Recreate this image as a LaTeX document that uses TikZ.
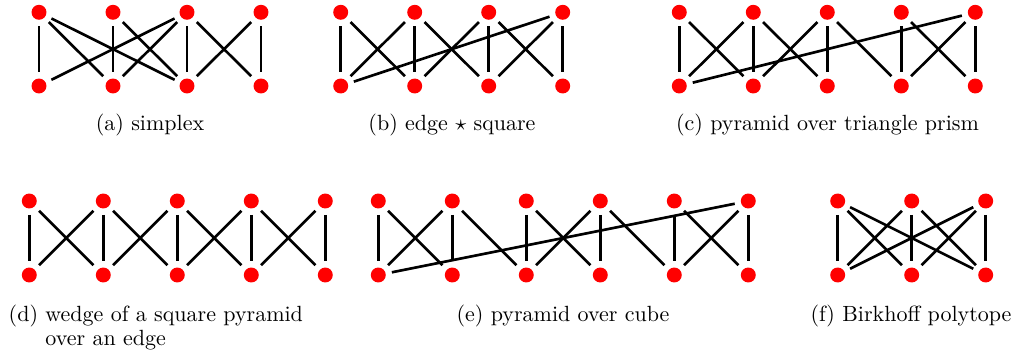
\documentclass[tikz,border=0pt]{standalone}
\begin{document}
\begin{tikzpicture}[x=0.4545pt,y=-0.4545pt,
  dot/.style={circle,fill=red,draw=none,inner sep=0pt,minimum size=6.8pt},
  link/.style={line width=1.2pt,shorten <=2.7pt,shorten >=2.7pt},
  subcap/.style={anchor=base,inner sep=0pt}]
\useasboundingbox (0,0) rectangle (1020,351);
% ---------- (a) simplex
\foreach \i in {1,...,4}{
  \node[dot] (aT\i) at ({39+74*(\i-1)},12.3) {};
  \node[dot] (aB\i) at ({39+74*(\i-1)},86) {};}
\foreach \u/\v in {1/1,1/2,1/3,2/2,2/3,3/1,3/2,3/3,3/4,4/3,4/4}
  \draw[link] (aT\u) -- (aB\v);
\node[subcap] (capa) at (150,131) {(a)\ simplex};
% ---------- (b) edge * square
\foreach \i in {1,...,4}{
  \node[dot] (bT\i) at ({340.7+74*(\i-1)},12.3) {};
  \node[dot] (bB\i) at ({340.7+74*(\i-1)},86) {};}
\foreach \u/\v in {1/1,1/2,2/1,2/2,2/3,3/2,3/3,3/4,4/3,4/4,4/1}
  \draw[link] (bT\u) -- (bB\v);
\node[subcap] (capb) at (452,131) {(b)\ edge $\star$ square};
% ---------- (c) pyramid over triangle prism
\foreach \i in {1,...,5}{
  \node[dot] (cT\i) at ({679.3+74*(\i-1)},12.3) {};
  \node[dot] (cB\i) at ({679.3+74*(\i-1)},86) {};}
\foreach \u/\v in {1/1,1/2,2/1,2/2,2/3,3/2,3/3,3/4,4/4,4/5,5/4,5/5,5/1}
  \draw[link] (cT\u) -- (cB\v);
\node[subcap] (capc) at (827.5,131) {(c)\ pyramid over triangle prism};
% ---------- (d) wedge of a square pyramid over an edge
\foreach \i in {1,...,5}{
  \node[dot] (dT\i) at ({29.3+74*(\i-1)},201) {};
  \node[dot] (dB\i) at ({29.3+74*(\i-1)},275) {};}
\foreach \u/\v in {1/1,1/2,2/1,2/2,2/3,3/2,3/3,3/4,4/3,4/4,4/5,5/4,5/5}
  \draw[link] (dT\u) -- (dB\v);
\node[anchor=base west,inner sep=0pt] (capd) at (8.3,322)
  {\begin{tabular}[t]{@{}l@{\ }l@{}}(d) & wedge of a square pyramid\\[-1.5pt] & over an edge\end{tabular}};
% ---------- (e) pyramid over cube
\foreach \i in {1,...,6}{
  \node[dot] (eT\i) at ({378.3+74*(\i-1)},201) {};
  \node[dot] (eB\i) at ({378.3+74*(\i-1)},275) {};}
\foreach \u/\v in {1/1,1/2,2/1,2/2,2/3,3/3,3/4,4/3,4/4,4/5,5/5,5/6,6/5,6/6,6/1}
  \draw[link] (eT\u) -- (eB\v);
\node[subcap] (cape) at (563,322) {(e)\ pyramid over cube};
% ---------- (f) Birkhoff polytope
\foreach \i in {1,...,3}{
  \node[dot] (fT\i) at ({837.7+74*(\i-1)},201) {};
  \node[dot] (fB\i) at ({837.7+74*(\i-1)},275) {};}
\foreach \u in {1,2,3}{\foreach \v in {1,2,3}{\draw[link] (fT\u) -- (fB\v);}}
\node[subcap] (capf) at (911,322) {(f)\ Birkhoff polytope};
\end{tikzpicture}
\end{document}
